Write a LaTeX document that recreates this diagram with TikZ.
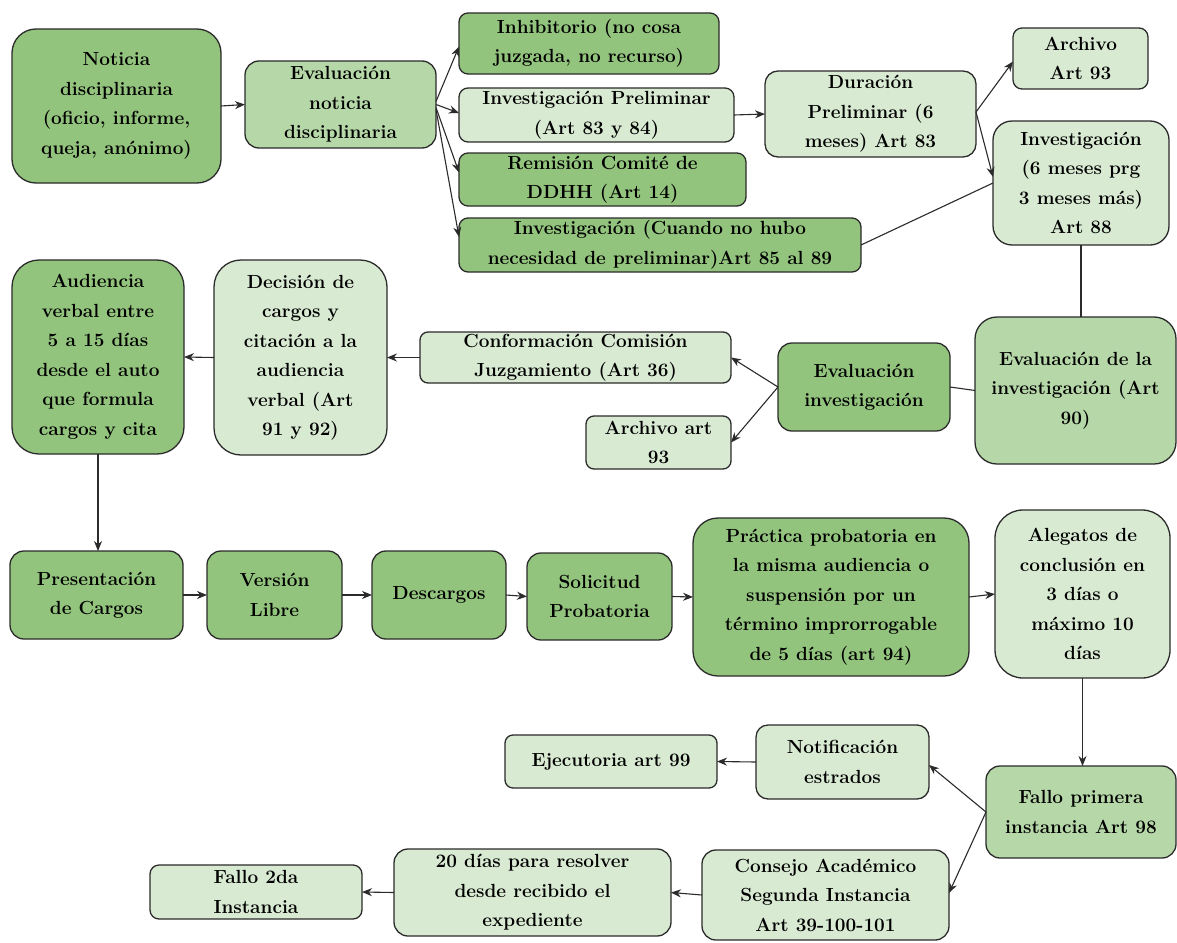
\documentclass[tikz,border=0pt]{standalone}
\usepackage{fontspec}
\usetikzlibrary{arrows.meta}
\definecolor{dk}{HTML}{93C47D}
\definecolor{md}{HTML}{B6D7A8}
\definecolor{lt}{HTML}{D9EAD3}
\definecolor{edge}{HTML}{2B2B2B}
\tikzset{
  box/.style={draw=edge, line width=1.3pt, inner sep=0pt, outer sep=0pt, align=center,
    font=\fontsize{19}{29.5}\selectfont\bfseries\addfontfeature{FakeBold=0.6}},
  conn/.style={draw=edge, line width=1.1pt},
  arr/.style={conn, -{Stealth[length=10pt,width=8pt]}}
}
% name, x1, y1, x2, y2, fill, radius, text
\newcommand\mybox[8]{%
  \node[box, fill=#6, rounded corners=#7pt,
        minimum width={(#4-#2)*1pt}, minimum height={(#5-#3)*1pt}]
        (#1) at ({(#2+#4)/2},{(#3+#5)/2}) {#8};}
\begin{document}
\begin{tikzpicture}[x=1pt,y=-1pt]
\useasboundingbox[fill=white] (0,0) rectangle (1177,942);

\mybox{noticia}{12}{29}{221}{183}{dk}{24}{Noticia\\disciplinaria\\(oficio, informe,\\queja, anónimo)}
\mybox{evalnot}{245}{61}{436}{148}{md}{14}{Evaluación\\noticia\\disciplinaria}
\mybox{inhib}{459}{13}{719}{74}{dk}{9}{Inhibitorio (no cosa\\juzgada, no recurso)}
\mybox{invpre}{459}{88}{734}{142}{lt}{9}{Investigación Preliminar\\(Art 83 y 84)}
\mybox{remis}{459}{153}{746}{206}{dk}{9}{Remisión Comité de\\DDHH (Art 14)}
\mybox{invcuando}{459}{218}{861}{272}{dk}{9}{Investigación (Cuando no hubo\\necesidad de preliminar)Art 85 al 89}
\mybox{durac}{765}{71}{976}{157}{lt}{13}{Duración\\Preliminar (6\\meses) Art 83}
\mybox{archivo}{1013}{28}{1148}{89}{lt}{9}{Archivo\\Art 93}
\mybox{invest}{993}{121}{1169}{245}{lt}{19}{Investigación\\(6 meses prg\\3 meses más)\\Art 88}
\mybox{evalinv}{975}{317}{1176}{464}{md}{22}{Evaluación de la\\investigación (Art\\90)}
\mybox{evalinvest}{778}{343}{950}{431}{dk}{14}{Evaluación\\investigación}
\mybox{conform}{420}{332}{731}{383}{lt}{8}{Conformación Comisión\\Juzgamiento (Art 36)}
\mybox{archivo2}{586}{416}{731}{469}{lt}{8}{Archivo art\\93}
\mybox{audiencia}{12}{260}{184}{454}{dk}{27}{Audiencia\\verbal entre\\5 a 15 días\\desde el auto\\que formula\\cargos y cita}
\mybox{decision}{214}{260}{387}{455}{lt}{27}{Decisión de\\cargos y\\citación a la\\audiencia\\verbal (Art\\91 y 92)}
\mybox{present}{10}{551}{183}{639}{dk}{14}{Presentación\\de Cargos}
\mybox{version}{207}{551}{342}{639}{dk}{14}{Versión\\Libre}
\mybox{descargos}{372}{551}{506}{639}{dk}{14}{Descargos}
\mybox{solicitud}{527}{553}{672}{640}{dk}{14}{Solicitud\\Probatoria}
\mybox{practica}{693}{518}{969}{676}{dk}{25}{Práctica probatoria en\\la misma audiencia o\\suspensión por un\\término improrrogable\\de 5 días (art 94)}
\mybox{alegatos}{995}{510}{1170}{678}{lt}{28}{Alegatos de\\conclusión en\\3 días o\\máximo 10\\días}
\mybox{ejecut}{505}{735}{717}{788}{lt}{8}{Ejecutoria art 99}
\mybox{notif}{756}{725}{929}{799}{lt}{12}{Notificación\\estrados}
\mybox{fallo1}{986}{766}{1176}{858}{md}{14}{Fallo primera\\instancia Art 98}
\mybox{consejo}{702}{850}{949}{940}{lt}{14}{Consejo Académico\\Segunda Instancia\\Art 39-100-101}
\mybox{veinte}{394}{849}{671}{936}{lt}{14}{20 días para resolver\\desde recibido el\\expediente}
\mybox{fallo2}{150}{865}{362}{919}{lt}{9}{Fallo 2da\\Instancia}

% connectors
\draw[arr] (noticia.east) -- (evalnot.west);
\draw[arr] ([yshift=3pt]evalnot.east) -- ([yshift=-3pt]inhib.west);
\draw[arr] (evalnot.east) -- ([yshift=2pt]invpre.west);
\draw[arr] ([yshift=-3pt]evalnot.east) -- ([yshift=7pt]remis.west);
\draw[arr] ([yshift=-5pt]evalnot.east) -- ([yshift=8pt]invcuando.west);
\draw[arr] (invpre.east) -- (durac.west);
\draw[arr] ([yshift=2pt]durac.east) -- ([yshift=-3pt]archivo.west);
\draw[arr] ([yshift=2pt]durac.east) -- ([yshift=6pt]invest.west);
\draw[conn] (invcuando.east) -- (invest.west);
\draw[conn] (invest.south) -- (invest.south |- evalinv.north);
\draw[conn] (evalinv.west) -- (evalinvest.east);
\draw[arr] (evalinvest.west) -- (conform.east);
\draw[arr] (evalinvest.west) -- (archivo2.east);
\draw[arr] (conform.west) -- (decision.east);
\draw[arr] (decision.west) -- (audiencia.east);
\draw[arr] (audiencia.south) -- (audiencia.south |- present.north);
\draw[arr] (present.east) -- (version.west);
\draw[arr] (version.east) -- (descargos.west);
\draw[arr] (descargos.east) -- (solicitud.west);
\draw[arr] (solicitud.east) -- (practica.west);
\draw[arr] (practica.east) -- (alegatos.west);
\draw[arr] (alegatos.south) -- (alegatos.south |- fallo1.north);
\draw[arr] (fallo1.west) -- ([yshift=-3pt]notif.east);
\draw[arr] (fallo1.west) -- ([yshift=2pt]consejo.east);
\draw[arr] (notif.west) -- (ejecut.east);
\draw[arr] (consejo.west) -- (veinte.east);
\draw[arr] (veinte.west) -- (fallo2.east);
\end{tikzpicture}
\end{document}
